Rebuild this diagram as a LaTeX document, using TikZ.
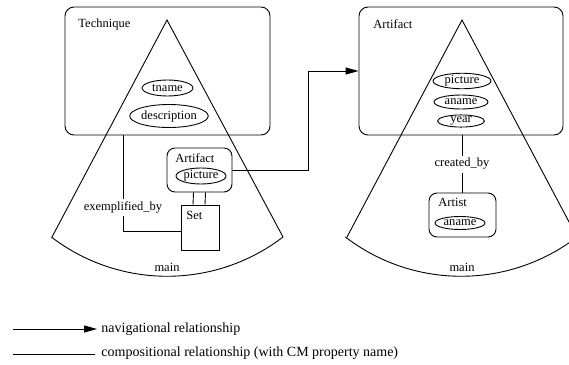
\documentclass[tikz,border=0pt]{standalone}
\usepackage{fontspec}
\setmainfont{Liberation Serif}
\usetikzlibrary{shapes.geometric,arrows.meta}
\begin{document}
\begin{tikzpicture}[x=1pt,y=1pt,
  line width=0.9pt,
  lbl/.style={font=\fontsize{12.5}{14}\selectfont, inner sep=0pt},
  legendtext/.style={font=\fontsize{14}{16}\selectfont, inner sep=0pt, anchor=west},
  classbox/.style={draw, rounded corners=9pt, inner sep=0pt},
  setbox/.style={draw, inner sep=0pt},
  attr/.style={draw, ellipse, inner sep=0pt, font=\fontsize{12.5}{14}\selectfont},
  nav/.style={-{Triangle[length=13pt,width=7pt]}},
]
\useasboundingbox (0,0) rectangle (569,-364);
\clip (0,0) rectangle (569,-364);

% ---------- left view: Technique ----------
\node[classbox, minimum width=205pt, minimum height=128pt] (tech) at (167.5,-71) {};
\node[lbl, anchor=west] (techlbl) at (78,-24) {Technique};
\draw (52,-237) -- (167,-20) -- (283,-237)
      arc[start angle=-52.55, end angle=-127.45, radius=190.5];
\node[lbl] (mainL) at (167,-267) {main};
\node[attr, minimum width=51pt, minimum height=16pt] (tname) at (167.5,-88) {tname};
\node[attr, minimum width=76pt, minimum height=23pt] (descr) at (169,-116) {description};

\node[classbox, rounded corners=8pt, minimum width=65pt, minimum height=44pt] (art) at (199.5,-170) {};
\node[lbl, anchor=west] (artlbl) at (175,-158) {Artifact};
\node[attr, minimum width=50pt, minimum height=16pt] (pic) at (201,-176) {picture};

\node[setbox, minimum width=38pt, minimum height=45pt] (set) at (200,-227.5) {};
\node[lbl, anchor=west] (setlbl) at (186,-215) {Set};

\node[lbl] (exby) at (123,-207) {exemplified\_by};
\coordinate (exbend) at (123,-231);
\draw (tech.south -| exby) -- ([yshift=2pt]exby.north);
\draw ([yshift=-3pt]exby.south) -- (exbend) -- (exbend -| set.west);

\draw ([xshift=-6pt]art.south) -- ([xshift=-7pt]set.north);
\draw ([xshift=6pt]art.south) -- ([xshift=5pt]set.north);

% ---------- right view: Artifact ----------
\node[classbox, minimum width=204pt, minimum height=128pt] (artR) at (461,-71) {};
\node[lbl, anchor=west] (artRlbl) at (373,-24) {Artifact};
\draw (347,-237) -- (462,-20) -- (577,-237)
      arc[start angle=-52.55, end angle=-127.45, radius=190.5];
\node[lbl] (mainR) at (462,-267) {main};
\node[attr, minimum width=58pt, minimum height=15pt] (picR) at (462,-81) {picture};
\node[attr, minimum width=54pt, minimum height=14pt] (anameR) at (461,-102) {aname};
\node[attr, minimum width=47pt, minimum height=12pt] (yearR) at (461,-121) {year};

\node[lbl] (crby) at (462,-164) {created\_by};
\node[classbox, rounded corners=8pt, minimum width=67pt, minimum height=44pt] (artist) at (462.5,-215) {};
\node[lbl, anchor=west] (artistlbl) at (438,-202) {Artist};
\node[attr, minimum width=50pt, minimum height=13pt] (anameA) at (460,-223) {aname};

\draw (artR.south -| crby) -- ([yshift=2pt]crby.north);
\draw ([yshift=-3pt]crby.south) -- (artist.north -| crby);

% ---------- navigational link ----------
\coordinate (navbend) at (308,-169);
\draw[nav] (art.east) -- (art.east -| navbend) |- (artR.west);

% ---------- legend ----------
\coordinate (l1a) at (13,-329);
\coordinate (l1b) at (97,-329);
\coordinate (l2a) at (13,-354);
\coordinate (l2b) at (95,-354);
\draw[nav] (l1a) -- (l1b);
\draw (l2a) -- (l2b);
\node[legendtext] (leg1) at (101,-329) {navigational relationship};
\node[legendtext] (leg2) at (101,-353) {compositional relationship (with CM property name)};
\end{tikzpicture}
\end{document}
